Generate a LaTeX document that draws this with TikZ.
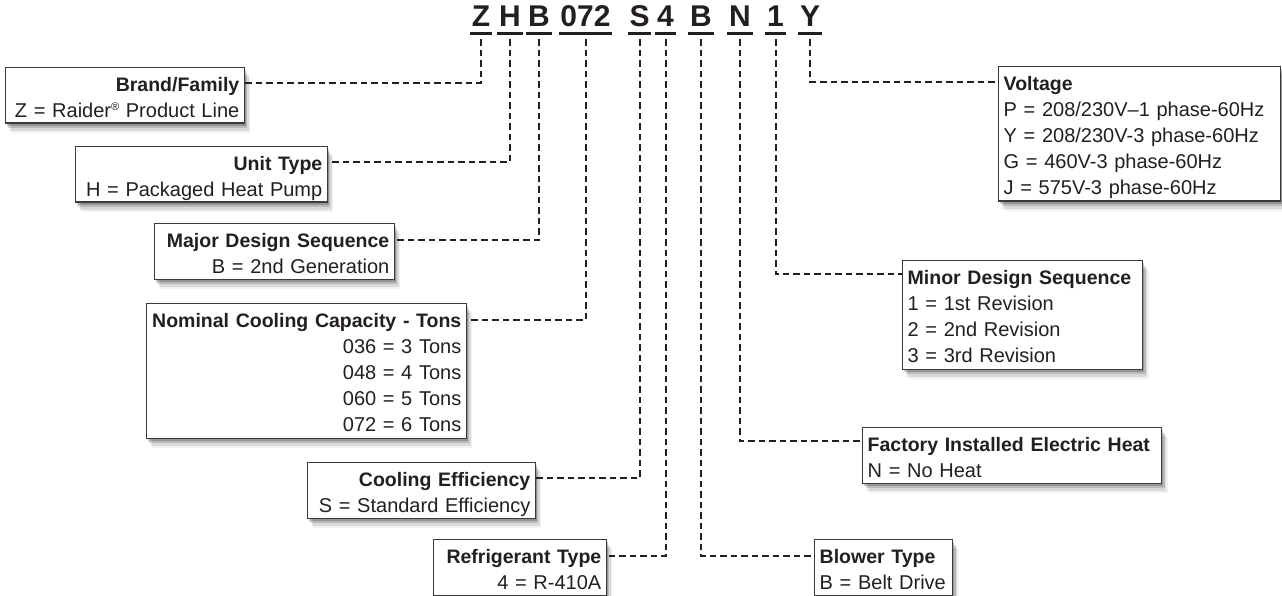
\documentclass[tikz,border=0pt]{standalone}
\usepackage{fontspec}
\setmainfont{Liberation Sans}
\usetikzlibrary{shadows}
\definecolor{txt}{HTML}{231F20}
\definecolor{edge}{HTML}{3A3A3A}
\tikzset{
  shadowbox/.style={
    drop shadow={shadow xshift=1.5pt,shadow yshift=-2.5pt,opacity=.2,fill=black},
    drop shadow={shadow xshift=3pt,shadow yshift=-5pt,opacity=.15,fill=black},
    drop shadow={shadow xshift=4.5pt,shadow yshift=-7.5pt,opacity=.1,fill=black},
    drop shadow={shadow xshift=6pt,shadow yshift=-9.5pt,opacity=.05,fill=black}},
  box/.style={draw=edge, line width=1.4pt, fill=white, text=txt, inner xsep=5pt,
    inner ysep=0pt, text height=24pt, font=\fontsize{20}{26}\selectfont, shadowbox},
  lbox/.style={box, align=right, anchor=north east},
  rbox/.style={box, align=left, anchor=north west},
  twoline/.style={text depth=31.5pt},
  fourline/.style={text depth=84.5pt},
  fiveline/.style={text depth=110.5pt},
  code/.style={font=\fontsize{30}{30}\selectfont\bfseries, text=txt, inner xsep=1.5pt,
    inner ysep=0pt, text depth=7pt, anchor=south},
  uline/.style={line width=3pt, draw=txt},
  conn/.style={line width=2pt, draw=txt, dash pattern=on 6.5pt off 4pt},
}
\newcommand\ttl[1]{\mbox{\fontsize{19.5}{26}\selectfont\bfseries #1}}
\newcommand\lne[1]{\mbox{#1}}
\newcommand\regmark{\raisebox{7pt}{\fontsize{11}{11}\selectfont ®}}
\begin{document}
\begin{tikzpicture}[x=1pt,y=-1pt]
\useasboundingbox (0,0) rectangle (1282,596);

% code letters
\node[code] (cZ) at (481,33.5) {Z};
\node[code] (cH) at (510,33.5) {H};
\node[code] (cB) at (539,33.5) {B};
\node[code] (cN0) at (585.5,33.5) {072};
\node[code] (cS) at (639.5,33.5) {S};
\node[code] (c4) at (665.5,33.5) {4};
\node[code] (cB2) at (701,33.5) {B};
\node[code] (cN) at (740,33.5) {N};
\node[code] (c1) at (775.5,33.5) {1};
\node[code] (cY) at (810,33.5) {Y};
\foreach \n in {cZ,cH,cB,cN0,cS,c4,cB2,cN,c1,cY}
  \draw[uline] (\n.south west) -- (\n.south east);

% boxes
\node[lbox, twoline, text width=229pt] (bf) at (245,67)
  {\ttl{Brand/Family}\\\lne{Z = Raider\regmark{} Product Line}};
\node[lbox, twoline, text width=242pt] (ut) at (328,146)
  {\ttl{Unit Type}\\\lne{H = Packaged Heat Pump}};
\node[lbox, twoline, text width=230pt] (md) at (395,223)
  {\ttl{Major Design Sequence}\\\lne{B = 2nd Generation}};
\node[lbox, fiveline, text width=310pt] (nc) at (467,303)
  {\ttl{Nominal Cooling Capacity - Tons}\\\lne{036 = 3 Tons}\\\lne{048 = 4 Tons}\\\lne{060 = 5 Tons}\\\lne{072 = 6 Tons}};
\node[lbox, twoline, text width=218pt] (ce) at (536,462)
  {\ttl{Cooling Efficiency}\\\lne{S = Standard Efficiency}};
\node[lbox, twoline, text width=163pt] (rt) at (607,539)
  {\ttl{Refrigerant Type}\\\lne{4 = R-410A}};
\node[rbox, twoline, text width=128pt] (bt) at (814,539)
  {\ttl{Blower Type}\\\lne{B = Belt Drive}};
\node[rbox, twoline, text width=289pt] (fh) at (862,427)
  {\ttl{Factory Installed Electric Heat}\\\lne{N = No Heat}};
\node[rbox, fourline, text width=230pt] (ms) at (902,260)
  {\ttl{Minor Design Sequence}\\\lne{1 = 1st Revision}\\\lne{2 = 2nd Revision}\\\lne{3 = 3rd Revision}};
\node[rbox, fiveline, text width=272pt] (vo) at (998,66)
  {\ttl{Voltage}\\\lne{P = 208/230V–1 phase-60Hz}\\\lne{Y = 208/230V-3 phase-60Hz}\\\lne{G = 460V-3 phase-60Hz}\\\lne{J = 575V-3 phase-60Hz}};

% connectors
\draw[conn] ([yshift=-6pt]cZ.south) |- ([yshift=-16pt]bf.north east);
\draw[conn] ([yshift=-6pt]cH.south) |- ([yshift=-16pt]ut.north east);
\draw[conn] ([yshift=-6pt]cB.south) |- ([yshift=-17pt]md.north east);
\draw[conn] ([yshift=-6pt]cN0.south) |- ([yshift=-17pt]nc.north east);
\draw[conn] ([yshift=-6pt]cS.south) |- ([yshift=-16pt]ce.north east);
\draw[conn] ([yshift=-6pt]c4.south) |- ([yshift=-17pt]rt.north east);
\draw[conn] ([yshift=-6pt]cB2.south) |- ([yshift=-17pt]bt.north west);
\draw[conn] ([yshift=-6pt]cN.south) |- ([yshift=-14pt]fh.north west);
\draw[conn] ([yshift=-6pt]c1.south) |- ([yshift=-14pt]ms.north west);
\draw[conn] ([yshift=-6pt]cY.south) |- ([yshift=-16pt]vo.north west);
\end{tikzpicture}
\end{document}
